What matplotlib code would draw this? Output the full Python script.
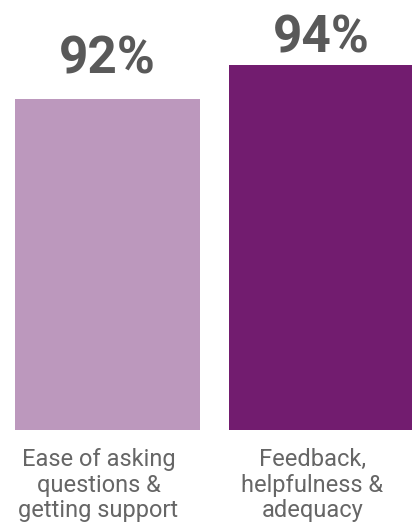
import matplotlib.pyplot as plt

# chart data
categories = ['Ease of asking\nquestions &\ngetting support',
              'Feedback,\nhelpfulness &\nadequacy']
values = [92, 94]
value_labels = ['92%', '94%']
colors = ['#bc98bd', '#721c6f']

plt.rcParams['font.family'] = ['Roboto', 'DejaVu Sans']

fig = plt.figure(figsize=(4.12, 5.23), dpi=100)
ax = fig.add_axes([15 / 412, 93 / 523, 399 / 412, 430 / 523])

x = range(len(values))
bars = ax.bar(x, values, width=0.865, color=colors, bottom=0)
ax.set_xlim(-0.4325, 1.4325)
ax.set_ylim(72.5, 97.8)

for a in ax.spines.values():
    a.set_visible(False)
ax.set_xticks([])
ax.set_yticks([])

# value labels above bars
label_pad = [25, 12]
for i, (v, lab) in enumerate(zip(values, value_labels)):
    ax.annotate(lab, (i, v), xytext=(0, label_pad[i] * 0.72), textcoords='offset points',
                ha='center', va='baseline', fontsize=37, fontweight='bold', color='#595959',
                annotation_clip=False)

# category labels below bars (last line baseline ~87px below bar bottom)
for i, cat in enumerate(categories):
    ax.annotate(cat, (i, 72.5), xytext=(-9 * 0.72, -87 * 0.72), textcoords='offset points',
                ha='center', va='baseline', fontsize=17, color='#666666', linespacing=1.13,
                multialignment='center', annotation_clip=False)

fig.savefig('out.png', dpi=100)
